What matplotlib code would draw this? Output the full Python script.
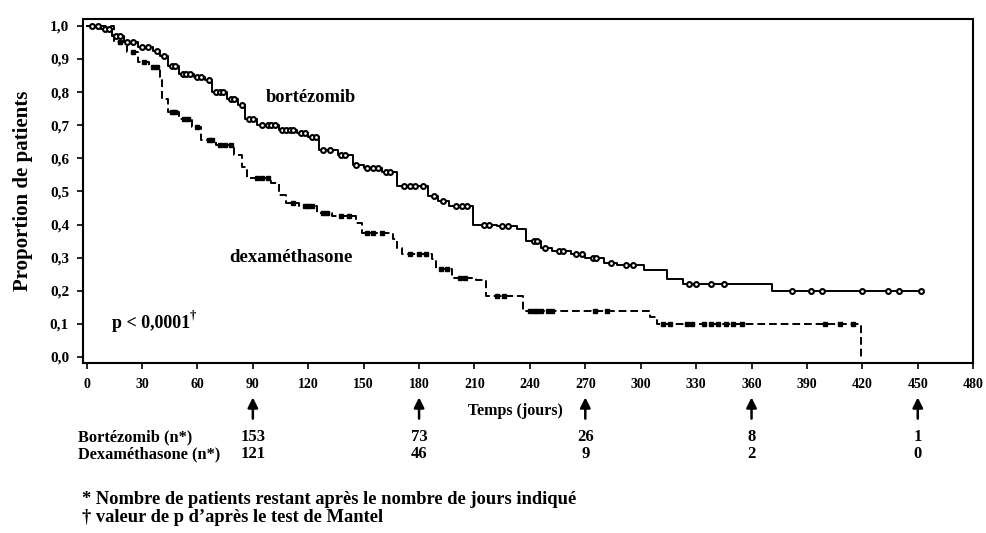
import numpy as np
import matplotlib
matplotlib.use('Agg')
from matplotlib import pyplot as plt

plt.rcParams['font.family'] = ['Liberation Serif', 'DejaVu Serif']
plt.rcParams['font.weight'] = 'bold'

# Kaplan-Meier steps: day of event and survival after it
bor_t = [0, 8, 14, 20, 28, 36, 40, 44, 50, 58, 64, 68, 76, 82, 86, 92, 104, 114,
         120, 126, 136, 144, 150, 160, 168, 185, 190, 196, 209, 222, 233, 238,
         246, 252, 262, 270, 280, 287, 302, 314, 323, 371, 452]
bor_s = [1.0, 0.99, 0.97, 0.95, 0.935, 0.925, 0.91, 0.88, 0.855, 0.845, 0.835,
         0.80, 0.78, 0.76, 0.72, 0.70, 0.685, 0.675, 0.665, 0.625, 0.61, 0.58,
         0.57, 0.56, 0.515, 0.485, 0.47, 0.455, 0.40, 0.395, 0.385, 0.35, 0.33,
         0.32, 0.31, 0.30, 0.285, 0.278, 0.263, 0.236, 0.22, 0.198, 0.198]

dex_t = [0, 15, 22, 28, 34, 40, 41, 44, 50, 57, 62, 70, 80, 84, 87, 100, 104,
         108, 115, 125, 133, 146, 149, 166, 168, 171, 187, 189, 198, 211, 216,
         236, 305, 309, 419, 419]
dex_s = [1.0, 0.95, 0.92, 0.89, 0.875, 0.845, 0.78, 0.74, 0.72, 0.695, 0.655,
         0.64, 0.61, 0.575, 0.54, 0.525, 0.49, 0.465, 0.455, 0.435, 0.425, 0.405,
         0.375, 0.355, 0.33, 0.31, 0.295, 0.265, 0.24, 0.232, 0.185, 0.14, 0.12,
         0.10, 0.0, 0.0]

# censored patients (days)
bor_cens = [3, 6, 10, 12, 16, 18, 22, 25, 30, 33, 38, 42, 46, 48, 52, 54, 56, 60,
            62, 66, 70, 72, 74, 78, 80, 84, 88, 90, 95, 98, 100, 102, 106, 108,
            110, 112, 116, 118, 122, 124, 128, 132, 138, 140, 146, 152, 155, 158,
            162, 164, 172, 175, 178, 182, 188, 193, 200, 203, 206, 215, 218, 225,
            228, 242, 244, 248, 256, 258, 265, 268, 274, 276, 284, 292, 296, 326,
            330, 338, 345, 382, 392, 398, 420, 434, 440, 452]
dex_cens = [18, 25, 31, 36, 38, 46, 48, 53, 55, 60, 66, 68, 72, 75, 78, 92, 95,
            98, 112, 118, 120, 122, 128, 130, 138, 142, 152, 155, 160, 175, 180,
            184, 192, 195, 202, 205, 222, 226, 240, 242, 244, 246, 250, 252, 275,
            282, 312, 316, 325, 328, 334, 338, 342, 346, 350, 355, 400, 408, 415]

# numbers at risk
risk_days = [90, 180, 270, 360, 450]
bor_risk = [153, 73, 26, 8, 1]
dex_risk = [121, 46, 9, 2, 0]

xticks = list(range(0, 481, 30))
yticks = [i / 10 for i in range(11)]
ylabels = ['%.1f' % v for v in yticks]
ylabels = [l.replace('.', ',') for l in ylabels]


def at(t, s, days):
    t = np.asarray(t)
    s = np.asarray(s)
    idx = np.searchsorted(t, days, side='right') - 1
    return s[idx]


fig = plt.figure(figsize=(9.87, 5.33), dpi=100)
ax = fig.add_axes([0.084, 0.319, 0.902, 0.645])

ax.step(bor_t, bor_s, where='post', color='black', lw=1.4)
ax.step(dex_t, dex_s, where='post', color='black', lw=1.4, linestyle=(0, (4, 2)))
ax.plot(bor_cens, at(bor_t, bor_s, bor_cens), 'o', ms=3.5, mfc='white',
        mec='black', mew=1.5, linestyle='none')
ax.plot(dex_cens, at(dex_t, dex_s, dex_cens), 's', ms=3.2, color='black',
        linestyle='none')

ax.set_xlim(-2, 480)
ax.set_ylim(-0.018, 1.02)
ax.set_xticks(xticks)
ax.set_xticklabels([str(x) for x in xticks], fontsize=10, fontweight='bold')
ax.set_yticks(yticks)
ax.set_yticklabels(ylabels, fontsize=11, fontweight='bold')
ax.tick_params(direction='out', length=4, width=1.2)
ax.tick_params(axis='y', pad=6)
ax.tick_params(axis='x', pad=7)
for sp in ax.spines.values():
    sp.set_linewidth(1.5)

ax.set_ylabel('Proportion de patients', fontsize=15, fontweight='bold', labelpad=12)

ax.text(97, 0.785, 'bortézomib', fontsize=13.2, fontweight='bold', va='center')
ax.text(77, 0.30, 'dexaméthasone', fontsize=13.5, fontweight='bold', va='center')
ax.text(14, 0.10, 'p < 0,0001', fontsize=13, fontweight='bold', va='center')
ax.text(56, 0.125, '†', fontsize=9, fontweight='bold', va='center')

xt = ax.get_xaxis_transform()
ax.text(232, -0.14, 'Temps (jours)', transform=xt, fontsize=11.5,
        fontweight='bold', ha='center', va='center')
for d, nb, nd in zip(risk_days, bor_risk, dex_risk):
    ax.annotate('', xy=(d, -0.092), xytext=(d, -0.17), xycoords=xt,
                textcoords=xt, annotation_clip=False,
                arrowprops=dict(arrowstyle='-|>', lw=1.8, color='black',
                                mutation_scale=15))
    ax.text(d, -0.215, str(nb), transform=xt, fontsize=12, fontweight='bold',
            ha='center', va='center')
    ax.text(d, -0.265, str(nd), transform=xt, fontsize=12, fontweight='bold',
            ha='center', va='center')

fig.text(0.079, 1 - 437 / 533, 'Bortézomib (n*)', fontsize=11.8,
         fontweight='bold', va='center')
fig.text(0.079, 1 - 454 / 533, 'Dexaméthasone (n*)', fontsize=11.8,
         fontweight='bold', va='center')

fig.text(0.083, 1 - 500 / 533,
         '* Nombre de patients restant après le nombre de jours indiqué',
         fontsize=13.3, fontweight='bold', va='center')
fig.text(0.083, 1 - 518 / 533, '† valeur de p d’après le test de Mantel',
         fontsize=13.3, fontweight='bold', va='center')

fig.savefig('out.png', dpi=100)
